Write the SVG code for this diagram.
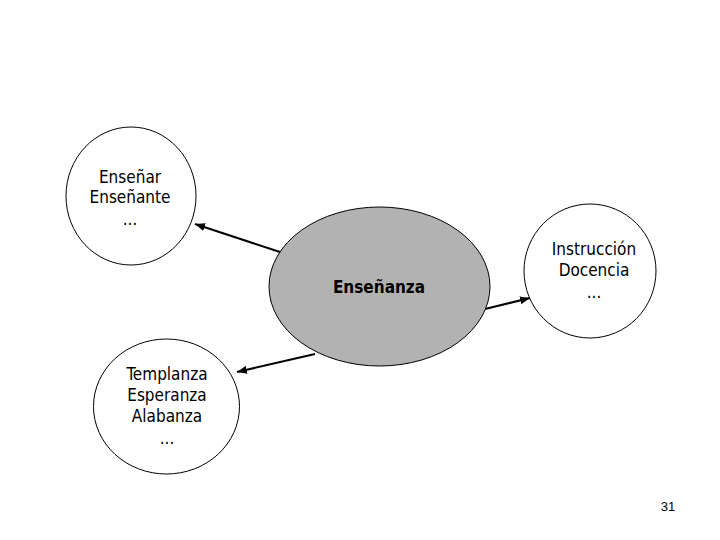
<svg xmlns="http://www.w3.org/2000/svg" width="720" height="540" viewBox="0 0 720 540">
  <style>
    .node { fill: #ffffff; stroke: #000000; stroke-width: 1; }
    .center { fill: #b2b2b2; stroke: #000000; stroke-width: 1; }
    .lbl { font-family: "DejaVu Sans Condensed", "DejaVu Sans", sans-serif; font-stretch: condensed; font-size: 17px; fill: #000000; text-anchor: middle; }
    .bold { font-weight: bold; }
    .conn { stroke: #000000; stroke-width: 2; fill: none; marker-end: url(#arrow); }
    .page { font-family: "Liberation Sans", Arial, sans-serif; font-size: 13px; fill: #000000; text-anchor: middle; }
  </style>
  <defs>
    <marker id="arrow" viewBox="0 0 10 8" refX="10" refY="4" markerWidth="10" markerHeight="8" markerUnits="userSpaceOnUse" orient="auto">
      <path d="M0,0 L10,4 L0,8 Z" fill="#000000"/>
    </marker>
  </defs>
  <rect width="720" height="540" fill="#ffffff"/>
  <g id="connectors">
    <line class="conn" x1="280" y1="252" x2="195" y2="224"/>
    <line class="conn" x1="485" y1="309" x2="530" y2="298"/>
    <line class="conn" x1="315" y1="354" x2="237" y2="372"/>
  </g>
  <g id="node-ensenar">
    <ellipse class="node" cx="131" cy="196" rx="65" ry="69"/>
    <text class="lbl" x="130" y="183">Enseñar</text>
    <text class="lbl" x="130" y="203">Enseñante</text>
    <text class="lbl" x="130" y="225">...</text>
  </g>
  <g id="node-ensenanza">
    <ellipse class="center" cx="379.5" cy="286.5" rx="110.5" ry="79.5"/>
    <text class="lbl bold" x="379" y="293">Enseñanza</text>
  </g>
  <g id="node-instruccion">
    <ellipse class="node" cx="590" cy="271" rx="66" ry="67"/>
    <text class="lbl" x="594" y="255">Instrucción</text>
    <text class="lbl" x="594" y="276">Docencia</text>
    <text class="lbl" x="594" y="298">...</text>
  </g>
  <g id="node-templanza">
    <ellipse class="node" cx="166.5" cy="406.5" rx="73" ry="67.5"/>
    <text class="lbl" x="167" y="380">Templanza</text>
    <text class="lbl" x="167" y="401">Esperanza</text>
    <text class="lbl" x="167" y="422">Alabanza</text>
    <text class="lbl" x="167" y="444">...</text>
  </g>
  <text class="page" x="668" y="511">31</text>
</svg>
